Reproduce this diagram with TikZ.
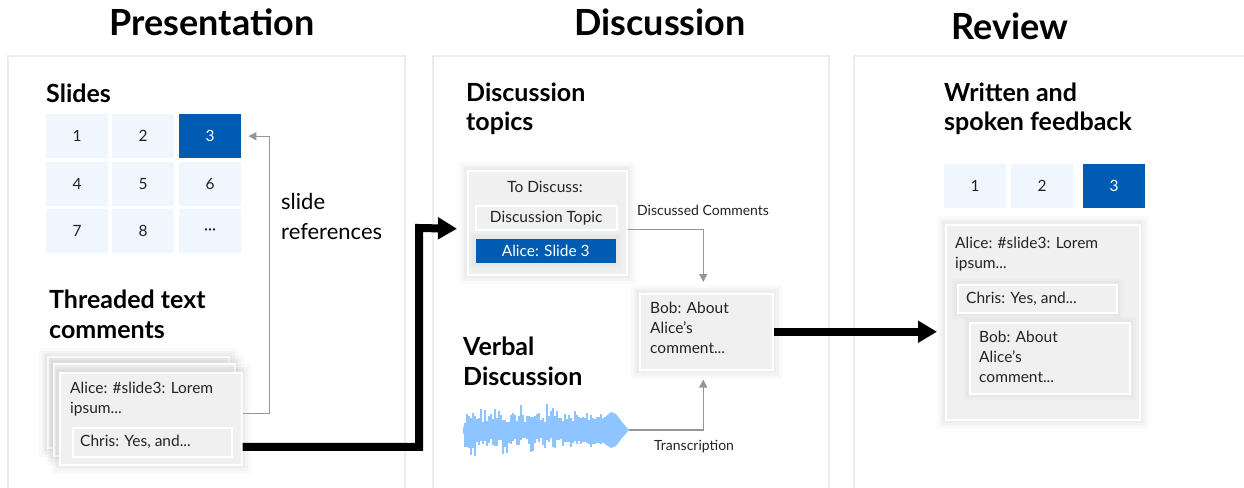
\documentclass[tikz,border=0pt]{standalone}
\usepackage{fontspec}
\setmainfont{Lato}
\usetikzlibrary{arrows.meta,calc}

\definecolor{accent}{RGB}{0,91,178}
\definecolor{cellblue}{RGB}{240,246,253}
\definecolor{cardgray}{RGB}{240,240,240}
\definecolor{panelgray}{RGB}{236,236,236}
\definecolor{linegray}{RGB}{150,150,150}
\definecolor{ink}{RGB}{35,35,35}
\definecolor{wave}{RGB}{142,196,255}

\begin{document}
\begin{tikzpicture}[x=1pt,y=-1pt,
  panel/.style={draw=panelgray,line width=2pt},
  title/.style={font=\fontsize{36}{42}\selectfont\bfseries,anchor=base,inner sep=0},
  head/.style={font=\fontsize{25}{30}\selectfont\bfseries,anchor=base west,inner sep=0},
  body/.style={font=\fontsize{15.5}{19}\selectfont,text=ink,anchor=base west,inner sep=0},
  label/.style={font=\fontsize{14}{17}\selectfont,text=ink,anchor=base west,inner sep=0},
  cell/.style={fill=cellblue,minimum width=62pt,minimum height=44pt,inner sep=0,
    anchor=north west,font=\fontsize{15.5}{19}\selectfont,text=ink},
  selcell/.style={cell,fill=accent,text=white},
  softshadow/.style={
    preaction={draw=black,draw opacity=0.018,line width=18pt},
    preaction={draw=black,draw opacity=0.022,line width=12pt},
    preaction={draw=black,draw opacity=0.028,line width=7pt}},
  lightshadow/.style={
    preaction={draw=black,draw opacity=0.015,line width=12pt},
    preaction={draw=black,draw opacity=0.02,line width=7pt}},
  flatcard/.style={fill=cardgray,draw=white,line width=1.5pt,anchor=north west,inner sep=0},
  card/.style={flatcard,softshadow},
  bigarrow/.style={line width=8pt,-{Triangle[length=19pt,width=21pt]}},
  grayarrow/.style={draw=linegray,line width=1.4pt,-{Triangle[length=8pt,width=8pt]}}
]
\useasboundingbox (0,0) rectangle (1244,487);
\clip (0,0) rectangle (1244,487);

% stage panels
\draw[panel] (8,498) -- (8,56) -- (405,56) -- (405,498);
\draw[panel] (433,498) -- (433,56) -- (829,56) -- (829,498);
\draw[panel] (854,498) -- (854,56) -- (1250,56);

% stage titles
\node[title] (t1) at (212,36) {Presentation};
\node[title] (t2) at (660,36) {Discussion};
\node[title] (t3) at (1010,40) {Review};

% ---------- Presentation ----------
\node[head] (hslides) at (46,102) {Slides};
\node[cell] (c1) at (46,114) {1};
\node[cell] (c2) at (112,114) {2};
\node[selcell] (c3) at (179,114) {3};
\node[cell] (c4) at (46,162) {4};
\node[cell] (c5) at (112,162) {5};
\node[cell] (c6) at (179,162) {6};
\node[cell] (c7) at (46,209) {7};
\node[cell] (c8) at (112,209) {8};
\node[cell] (c9) at (179,209) {···};

\node[font=\fontsize{22}{26}\selectfont,anchor=base west,inner sep=0] (ref1) at (281,209) {slide};
\node[font=\fontsize{22}{26}\selectfont,anchor=base west,inner sep=0] (ref2) at (281,239) {references};

\node[head] (hthr1) at (49,308) {Threaded text};
\node[head] (hthr2) at (49,338) {comments};

% stacked comment thread
\node[card,minimum width=181pt,minimum height=91pt] (back2) at (47,356) {};
\node[card,minimum width=181pt,minimum height=92pt] (back1) at (53,363) {};
\node[card,minimum width=182pt,minimum height=92pt] (front) at (59,372) {};
\node[body] (fa1) at (70,393) {Alice: \#slide3: Lorem};
\node[body] (fa2) at (70,413) {ipsum...};
\node[flatcard,minimum width=159pt,minimum height=29pt] (fchris) at (72,427) {};
\node[body] (fc) at (80,446) {Chris: Yes, and...};

% ---------- Discussion ----------
\node[head] (hdt1) at (466,101) {Discussion};
\node[head] (hdt2) at (466,130) {topics};

\node[card,minimum width=159pt,minimum height=104pt] (todisc) at (467,170) {};
\node[body,anchor=base] (tdl) at (545,192) {To Discuss:};
\node[flatcard,minimum width=141pt,minimum height=24pt,font=\fontsize{15.5}{19}\selectfont,text=ink] (topic) at (475,205) {Discussion Topic};
\node[flatcard,fill=accent,draw=none,lightshadow,minimum width=140pt,minimum height=24pt,
  font=\fontsize{15.5}{19}\selectfont,text=white] (aslide) at (475,238) {Alice: Slide 3};

\node[card,minimum width=133pt,minimum height=76pt] (bob) at (639,293) {};
\node[body] (b1) at (650,313) {Bob: About};
\node[body] (b2) at (650,333) {Alice’s};
\node[body] (b3) at (650,353) {comment...};

\node[head] (hvd1) at (463,355) {Verbal};
\node[head] (hvd2) at (463,385) {Discussion};

% audio waveform
\fill[wave] (463,428) -- (466,423) -- (480,423) -- (520,422) -- (560,422) -- (577,421)
  -- (579,420) -- (600,420) -- (605,417) -- (611,412) -- (616,414) -- (622,422) -- (629,430)
  -- (622,438) -- (616,446) -- (611,448) -- (605,444) -- (600,441) -- (579,441) -- (577,439)
  -- (540,438) -- (480,438) -- (466,438) -- (463,433) -- cycle;
\pgfmathsetseed{23}
\foreach \x in {465,467,...,577} {
  \pgfmathsetmacro\up{7+9*rnd+11*rnd^4}
  \pgfmathsetmacro\dn{7+9*rnd+15*rnd^4}
  \draw[wave,line width=1.3pt] (\x,430-\up) -- (\x,430+\dn);
}
\foreach \x in {579,581,...,601} {
  \pgfmathsetmacro\up{10+7*rnd}
  \pgfmathsetmacro\dn{10+7*rnd}
  \draw[wave,line width=1.3pt] (\x,430-\up) -- (\x,430+\dn);
}
\coordinate (wavetip) at (629,430);

\node[label] (ldc) at (637,215) {Discussed Comments};
\node[label] (ltr) at (654,450) {Transcription};

% ---------- Review ----------
\node[head] (hwf1) at (944,101) {Written and};
\node[head] (hwf2) at (944,130) {spoken feedback};
\node[cell] (r1) at (944,164) {1};
\node[cell] (r2) at (1011,164) {2};
\node[selcell] (r3) at (1083,164) {3};

\node[card,minimum width=194pt,minimum height=195pt] (rcard) at (945,224) {};
\node[body] (ra1) at (955,248) {Alice: \#slide3: Lorem};
\node[body] (ra2) at (955,268) {ipsum...};
\node[flatcard,lightshadow,minimum width=159pt,minimum height=28pt] (rchris) at (957,284) {};
\node[body] (rc) at (966,303) {Chris: Yes, and...};
\node[flatcard,lightshadow,minimum width=160pt,minimum height=71pt] (rbob) at (969,322) {};
\node[body] (rb1) at (979,342) {Bob: About};
\node[body] (rb2) at (979,362) {Alice’s};
\node[body] (rb3) at (979,382) {comment...};

% ---------- connectors ----------
\draw[grayarrow] ([yshift=5pt]front.east) -- ++(27,0) |- ([xshift=7pt]c3.east);
\draw[grayarrow] ([yshift=-7pt]todisc.east) -| ([xshift=-3pt,yshift=11pt]bob.north);
\draw[grayarrow] (wavetip) -| ([xshift=-3pt,yshift=-9pt]bob.south);

\coordinate (bend1) at (419,228);
\draw[bigarrow] ([yshift=-28pt]front.east) -| (bend1) -- ([xshift=-10pt,yshift=-6pt]todisc.west);
\draw[bigarrow] (bob.east) -- ([xshift=-8pt]rcard.west |- bob.east);
\end{tikzpicture}
\end{document}
